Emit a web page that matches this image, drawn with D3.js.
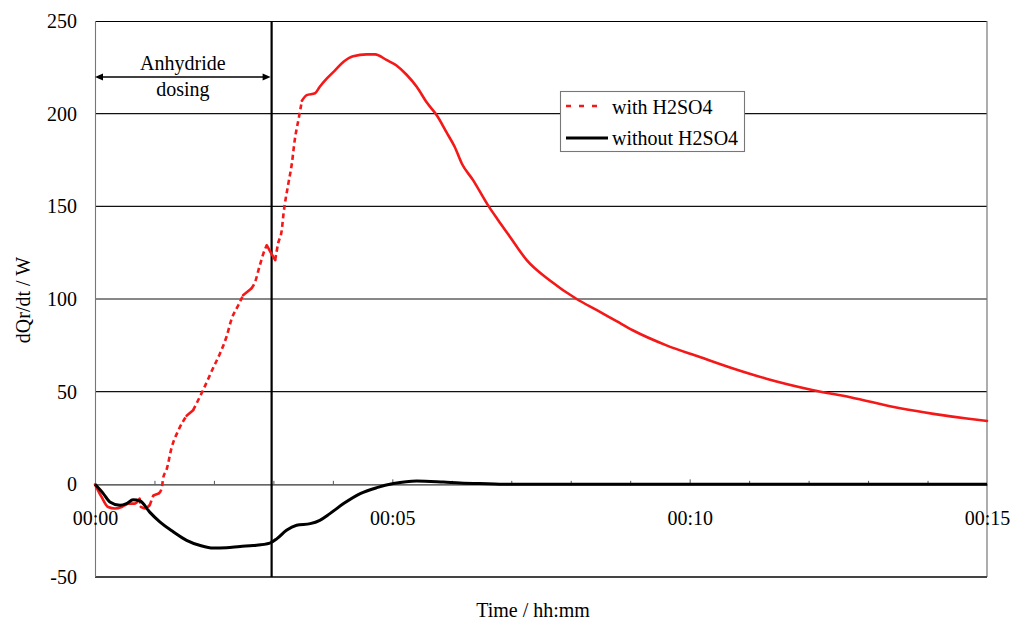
<!DOCTYPE html>
<html><head><meta charset="utf-8">
<script src="https://cdn.jsdelivr.net/npm/d3@7"></script>
<style>
body{margin:0;background:#fff}
svg{display:block}
text{font-family:"Liberation Serif","Times New Roman",serif;fill:#000}
</style>
</head><body>
<svg id="c" width="1012" height="621"></svg>
<script>
// ---------- data ----------
const seriesNames = ["with H2SO4", "without H2SO4"];
// time in minutes, heat flow dQr/dt in W
const timeWithAcid = [0,0.11,0.22,0.34,0.45,0.56,0.67,0.75,0.77,0.84,0.92,0.98,1.07,1.12,1.15,1.2,1.29,1.40,1.54,1.65,1.82,1.99,2.10,2.21,2.30,2.41,2.49,2.63,2.69,2.77,2.86,2.89,2.94,3.03,3.08,3.14,3.17,3.25,3.31,3.36,3.42,3.48,3.56,3.70,3.78,3.90,4.04,4.18,4.34,4.57,4.71,4.90,5.07,5.24,5.41,5.58,5.75,5.91,6.05,6.17,6.36,6.61,6.78,6.98,7.26,7.65,8.10,8.44,8.77,9.05,9.61,10.17,10.73,11.29,12.08,12.70,13.54,14.10,14.66,15];
const dqWithAcid   = [0,-6.8,-12.2,-13,-12.2,-10.4,-10.4,-7.7,-12.2,-13,-11.3,-6,-5,-2.3,4,7.5,20,29,37,40,51,63,70.5,79.5,89.5,96.6,102,105.7,109,118,127,129,126,121,130,137,146,162,173,186,196.5,207,210,211,214.5,219,223.5,228,231,232,232,229,226,221,214.5,206,199,190,182,173,164,150.5,142.5,133.5,121,110,100,94,88,83,75,68.7,62.5,57,50.8,47,41,38,35.5,34.2];
const timeNoAcid = [0,0.14,0.25,0.42,0.53,0.64,0.76,0.92,1.09,1.32,1.54,1.77,1.99,2.21,2.44,2.66,2.94,3.06,3.22,3.39,3.62,3.78,3.95,4.18,4.46,4.74,5.02,5.41,5.86,6.14,6.6,7.0,15];
const dqNoAcid   = [0,-5,-9.5,-11.3,-10.4,-8.3,-9,-15,-20.3,-25.7,-30.2,-33,-34.4,-34.2,-33.5,-33,-31.7,-29.3,-24.8,-22.1,-21.2,-19.4,-15.8,-10.4,-5,-1.8,0.4,1.8,1.2,0.7,0.3,0,0];
const yTicks = [-50,0,50,100,150,200,250];
const yTickLabels = ["-50","0","50","100","150","200","250"];
const yGrid = [50,100,150,200];
const xMinorTicks = [1,2,3,4,6,7,8,9,11,12,13,14];
const xMajorTicks = [0,5,10,15];
const xLabels = ["00:00","00:05","00:10","00:15"];
const dosingEnd = 2.97;
const annotationLines = ["Anhydride","dosing"];
const xTitle = "Time / hh:mm";
const yTitle = "dQr/dt / W";

// ---------- layout ----------
const svg = d3.select("#c");
const L = 95, R = 987, T = 21, B = 577;
const x = d3.scaleLinear().domain([0,15]).range([L,R]);
const y = d3.scaleLinear().domain([-50,250]).range([B,T]);
const FONT = "Liberation Serif, Times New Roman, serif";

// gridlines
svg.append("g").selectAll("line").data(yGrid).join("line")
  .attr("x1",L).attr("x2",R).attr("y1",d=>y(d)).attr("y2",d=>y(d))
  .attr("stroke","#111").attr("stroke-width",1.1);

// frame
svg.append("line").attr("x1",L).attr("x2",R).attr("y1",T+0.5).attr("y2",T+0.5).attr("stroke","#000").attr("stroke-width",1.1);
svg.append("line").attr("x1",R).attr("x2",R).attr("y1",T).attr("y2",B).attr("stroke","#777").attr("stroke-width",1.2);
svg.append("line").attr("x1",L).attr("x2",R).attr("y1",B).attr("y2",B).attr("stroke","#444").attr("stroke-width",2);
svg.append("line").attr("x1",L+0.5).attr("x2",L+0.5).attr("y1",T).attr("y2",B).attr("stroke","#777").attr("stroke-width",1.1);

// y axis labels
const gy = svg.append("g").attr("transform",`translate(${L},0)`)
  .call(d3.axisLeft(y).tickValues(yTicks).tickSize(0).tickPadding(18)
    .tickFormat((d,i)=>yTickLabels[i]));
gy.select(".domain").remove();
gy.selectAll("text").attr("font-family",FONT).attr("font-size",20).attr("fill","#000");

// zero axis with upward ticks
const g0 = svg.append("g").attr("transform",`translate(0,${y(0)})`)
  .call(d3.axisTop(x).tickValues(xMinorTicks).tickSize(3.5).tickSizeOuter(0).tickFormat(""));
g0.select(".domain").attr("stroke","#333").attr("stroke-width",1.1);
g0.selectAll(".tick line").attr("stroke","#555");
const g1 = svg.append("g").attr("transform",`translate(0,${y(0)})`)
  .call(d3.axisTop(x).tickValues(xMajorTicks.slice(1,3)).tickSize(5).tickSizeOuter(0).tickFormat(""));
g1.select(".domain").remove();
g1.selectAll(".tick line").attr("stroke","#555");
// x labels
const gx = svg.append("g").attr("transform",`translate(0,${y(0)})`)
  .call(d3.axisBottom(x).tickValues(xMajorTicks).tickSize(0).tickPadding(26)
    .tickFormat((d,i)=>xLabels[i]));
gx.select(".domain").remove();
gx.selectAll("text").attr("font-family",FONT).attr("font-size",20).attr("fill","#000");

// dosing end vertical line
svg.append("line").attr("x1",x(dosingEnd)).attr("x2",x(dosingEnd)).attr("y1",T).attr("y2",B)
  .attr("stroke","#000").attr("stroke-width",2.2);

// red series (dashed where steep, as Excel renders dense dashed data)
const redPts = timeWithAcid.map((t,i)=>[x(t), y(dqWithAcid[i])]);
const runs = [];
for (let i=0;i<redPts.length-1;i++){
  const [x0,y0]=redPts[i], [x1,y1]=redPts[i+1];
  const s=(y0-y1)/Math.max(0.01,(x1-x0));
  const dashed = s>1.4 || s<-2.6;
  const last = runs[runs.length-1];
  if (last && last.dashed===dashed) last.pts.push(redPts[i+1]);
  else runs.push({dashed, pts:[redPts[i],redPts[i+1]]});
}
const line = d3.line().curve(d3.curveMonotoneX);
svg.append("g").selectAll("path").data(runs).join("path")
  .attr("d",d=>line(d.pts)).attr("fill","none").attr("stroke","#f41818")
  .attr("stroke-width",2.6)
  .attr("stroke-dasharray",d=>d.dashed?"5,3.5":null)
  .attr("stroke-linejoin","round")
  .attr("stroke-linecap",d=>d.dashed?"butt":"round");

// black series
svg.append("path")
  .attr("d", d3.line().curve(d3.curveMonotoneX).x((d,i)=>x(timeNoAcid[i])).y(d=>y(d))(dqNoAcid))
  .attr("fill","none").attr("stroke","#000").attr("stroke-width",3).attr("stroke-linejoin","round");

// annotation arrow
const ay = 77, ax0 = x(0), ax1 = x(dosingEnd)-1;
svg.append("line").attr("x1",ax0+6).attr("x2",ax1-6).attr("y1",ay).attr("y2",ay).attr("stroke","#000").attr("stroke-width",1.5);
svg.append("path").attr("d",`M${ax0},${ay} L${ax0+8},${ay-3.5} L${ax0+8},${ay+3.5} Z`).attr("fill","#000");
svg.append("path").attr("d",`M${ax1},${ay} L${ax1-8},${ay-3.5} L${ax1-8},${ay+3.5} Z`).attr("fill","#000");
svg.append("g").selectAll("text").data(annotationLines).join("text")
  .attr("x",(ax0+ax1)/2).attr("y",(d,i)=>i?96:70).attr("text-anchor","middle")
  .attr("font-size",20).text(d=>d);

// legend
svg.append("rect").attr("x",560.5).attr("y",91.5).attr("width",184).attr("height",60)
  .attr("fill","#fff").attr("stroke","#777").attr("stroke-width",1.1);
svg.append("line").attr("x1",566).attr("x2",602).attr("y1",106).attr("y2",106)
  .attr("stroke","#f41818").attr("stroke-width",2.6).attr("stroke-dasharray","5,8");
svg.append("line").attr("x1",566).attr("x2",608).attr("y1",138).attr("y2",138)
  .attr("stroke","#000").attr("stroke-width",2.8);
svg.append("g").selectAll("text").data(seriesNames).join("text")
  .attr("x",612).attr("y",(d,i)=>i?145:114).attr("font-size",20).text(d=>d);

// axis titles
svg.append("text").attr("x",533).attr("y",617).attr("text-anchor","middle").attr("font-size",20).text(xTitle);
svg.append("text").attr("transform","translate(30,300) rotate(-90)").attr("text-anchor","middle").attr("font-size",20).text(yTitle);
</script>
</body></html>
